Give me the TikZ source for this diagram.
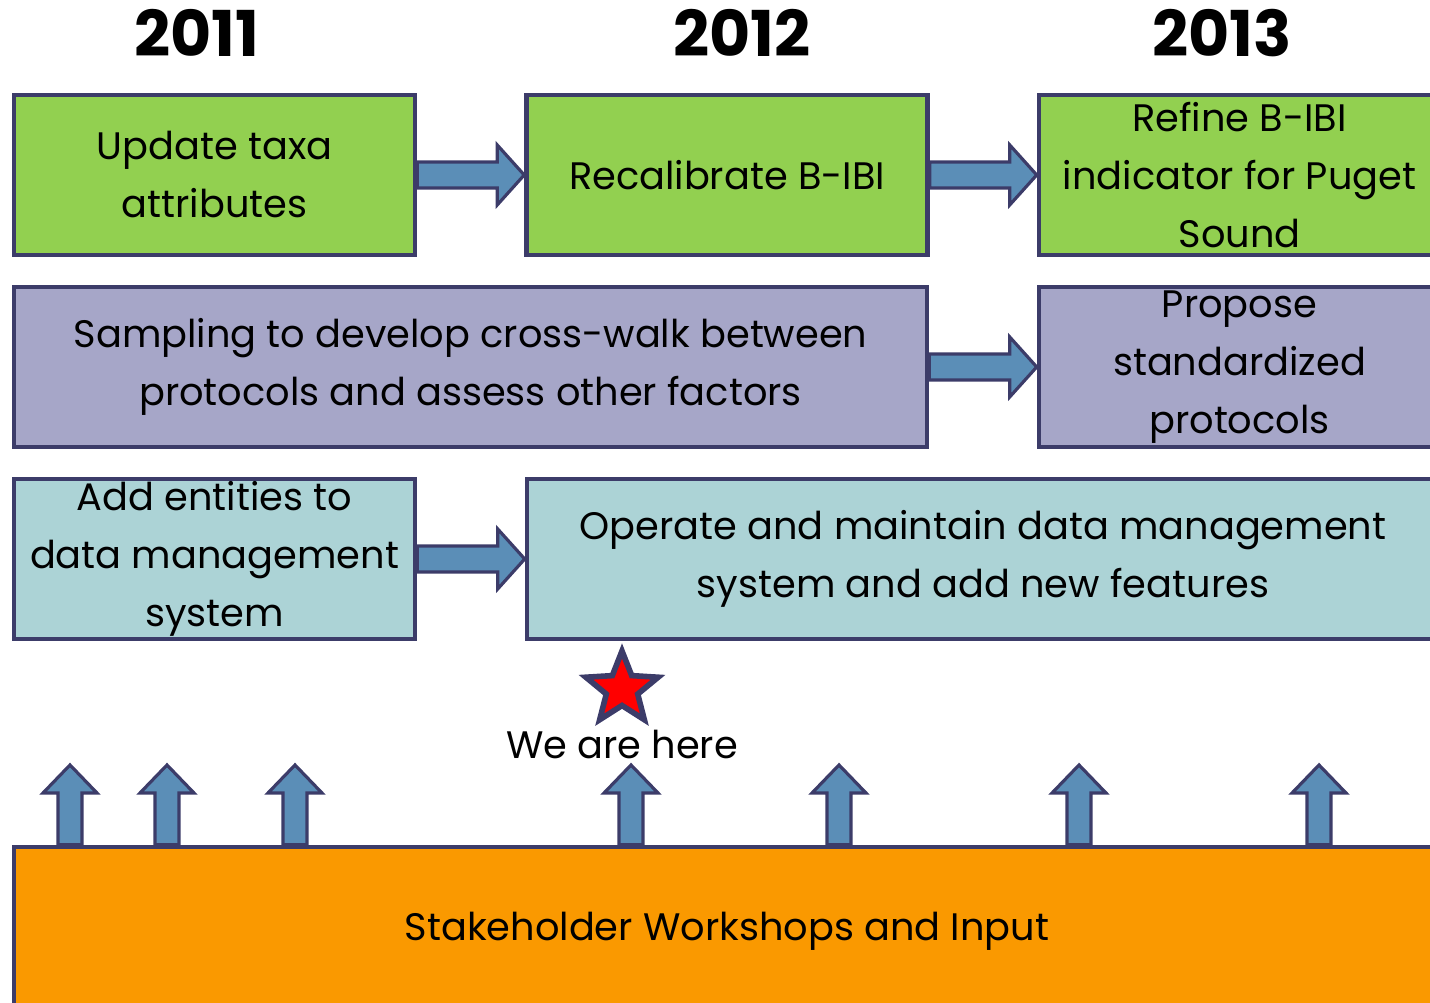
\documentclass[tikz,border=0pt]{standalone}
\usepackage{fontspec}
\setmainfont{Poppins}
\usepackage{xcolor}
\usepackage{tikz}
\usetikzlibrary{calc,shapes.geometric}
\definecolor{boxline}{RGB}{60,60,105}
\definecolor{taskgreen}{RGB}{146,208,80}
\definecolor{taskpurple}{RGB}{166,166,200}
\definecolor{taskteal}{RGB}{172,211,214}
\definecolor{taskorange}{RGB}{250,153,0}
\definecolor{arrowblue}{RGB}{91,142,183}

\begin{document}
\begin{tikzpicture}[
box/.style={rectangle,draw=boxline,line width=1.3pt,align=center,
minimum height=1.6cm,inner sep=0pt,font=\fontsize{10.9}{16.5}\selectfont},
year/.style={font=\fontsize{18}{20}\selectfont\bfseries},
rarrow/.style={draw=boxline,fill=arrowblue,line width=0.9pt,
to path={let \p1=(\tikztostart),\p2=(\tikztotarget) in
(\x1,\y1+0.13cm) -- (\x2-0.27cm,\y1+0.13cm) -- (\x2-0.27cm,\y1+0.3cm) -- (\x2,\y1)
-- (\x2-0.27cm,\y1-0.3cm) -- (\x2-0.27cm,\y1-0.13cm) -- (\x1,\y1-0.13cm) -- cycle}},
uarrow/.style={draw=boxline,fill=arrowblue,line width=0.9pt,
to path={let \p1=(\tikztostart),\p2=(\tikztotarget) in
(\x1-0.12cm,\y1) -- (\x1-0.12cm,\y2-0.28cm) -- (\x1-0.27cm,\y2-0.28cm) -- (\x1,\y2)
-- (\x1+0.27cm,\y2-0.28cm) -- (\x1+0.12cm,\y2-0.28cm) -- (\x1+0.12cm,\y1) -- cycle}}]
\useasboundingbox (0,0) rectangle (14.3,10.03);
\clip (0,0) rectangle (14.3,10.03);
% years
\node[year] (y2011) at (1.97,9.70) {2011};
\node[year] (y2012) at (7.42,9.70) {2012};
\node[year] (y2013) at (12.22,9.70) {2013};
% tasks
\node[box,fill=taskgreen,minimum width=4.01cm] (taxa) at (2.145,8.28) {Update taxa\\attributes};
\node[box,fill=taskgreen,minimum width=4.01cm] (recal) at (7.27,8.28) {Recalibrate B-IBI};
\node[box,fill=taskgreen,minimum width=4.01cm] (refine) at (12.395,8.28) {Refine B-IBI\\indicator for Puget\\Sound};
\node[box,fill=taskpurple,minimum width=9.13cm] (sampling) at (4.705,6.36) {Sampling to develop cross-walk between\\protocols and assess other factors};
\node[box,fill=taskpurple,minimum width=4.01cm] (propose) at (12.395,6.36) {Propose\\standardized\\protocols};
\node[box,fill=taskteal,minimum width=4.01cm] (entities) at (2.145,4.44) {Add entities to\\data management\\system};
\node[box,fill=taskteal,minimum width=9.12cm] (operate) at (9.83,4.44) {Operate and maintain data management\\system and add new features};
\node[box,fill=taskorange,minimum width=14.26cm,minimum height=1.68cm] (stake) at (7.27,0.72) {Stakeholder Workshops and Input};
\draw[rarrow] (taxa.east) to (recal.west);
\draw[rarrow] (recal.east) to (refine.west);
\draw[rarrow] (sampling.east) to (propose.west);
\draw[rarrow] (entities.east) to (operate.west);
% we are here
\node[star,star points=5,star point ratio=2.3,minimum size=0.76cm,inner sep=0pt,
draw=boxline,line width=1.6pt,fill=red] (here) at (6.22,3.14) {};
\node[font=\fontsize{10.9}{16.5}\selectfont] (herelabel) at (6.22,2.58) {We are here};
% input arrows
\coordinate (u1) at (0.70,2.38);
\coordinate (u2) at (1.67,2.38);
\coordinate (u3) at (2.95,2.38);
\coordinate (u4) at (6.31,2.38);
\coordinate (u5) at (8.39,2.38);
\coordinate (u6) at (10.79,2.38);
\coordinate (u7) at (13.19,2.38);
\draw[uarrow] (u1 |- stake.north) to (u1);
\draw[uarrow] (u2 |- stake.north) to (u2);
\draw[uarrow] (u3 |- stake.north) to (u3);
\draw[uarrow] (u4 |- stake.north) to (u4);
\draw[uarrow] (u5 |- stake.north) to (u5);
\draw[uarrow] (u6 |- stake.north) to (u6);
\draw[uarrow] (u7 |- stake.north) to (u7);
\end{tikzpicture}
\end{document}
